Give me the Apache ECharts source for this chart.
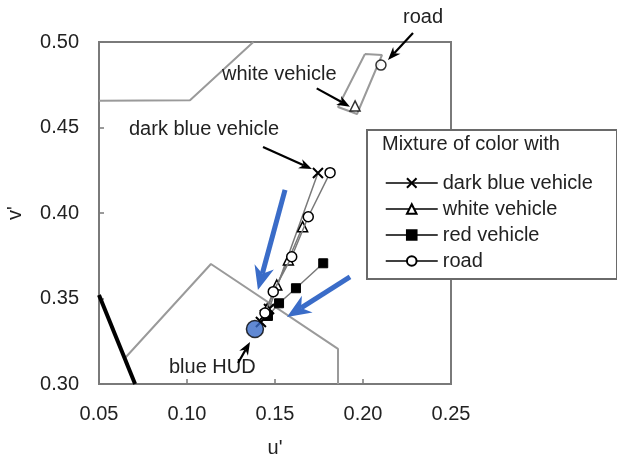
<!DOCTYPE html>
<html>
<head>
<meta charset="utf-8">
<script src="https://cdn.jsdelivr.net/npm/echarts@6/dist/echarts.min.js"></script>
<style>
  html, body { margin: 0; padding: 0; background: #fff; }
  #main { width: 617px; height: 463px; }
</style>
</head>
<body>
<div id="main"></div>
<script>
// u', v' chromaticity values
var hudPoint = [[0.1386, 0.3322]];
var darkBlue = [[0.1420, 0.3363], [0.1443, 0.3404], [0.1466, 0.3439], [0.1744, 0.4234]];
var whiteVeh = [[0.1455, 0.3439], [0.1510, 0.3579], [0.1576, 0.3725], [0.1657, 0.3920]];
var redVeh = [[0.1460, 0.3398], [0.1523, 0.3472], [0.1619, 0.3560], [0.1774, 0.3706]];
var road = [[0.1443, 0.3415], [0.1490, 0.3540], [0.1595, 0.3744], [0.1689, 0.3978], [0.1813, 0.4236]];
var whitePure = [[0.1955, 0.4626]];
var roadPure = [[0.2102, 0.4865]];

// gray boundary lines and the black line
var boundaryTop = [[0.05, 0.4657], [0.1017, 0.4660], [0.1377, 0.50]];
var boundaryBox = [[0.2011, 0.4930], [0.2108, 0.4924], [0.1966, 0.4579], [0.1858, 0.4620], [0.2011, 0.4930]];
var boundaryLow = [[0.0648, 0.3152], [0.1136, 0.3702], [0.1858, 0.3205], [0.1858, 0.30]];
var blackLine = [[0.05, 0.352], [0.0705, 0.30]];

// annotation arrows: [from, to]
var blackArrows = [
    [[0.2284, 0.5053], [0.2142, 0.4895]],
    [[0.1737, 0.4729], [0.1926, 0.4622]],
    [[0.1432, 0.4386], [0.1710, 0.4257]],
    [[0.1290, 0.3123], [0.1358, 0.3246]]
];
var blueArrows = [
    [[0.1557, 0.4135], [0.1403, 0.3550]],
    [[0.1926, 0.3626], [0.1568, 0.3392]]
];

var xTicks = [0.05, 0.10, 0.15, 0.20, 0.25];
var yTicks = [0.30, 0.35, 0.40, 0.45, 0.50];

var FONT = 'Liberation Sans';
var crossPath = 'path://M0,0L10,10M10,0L0,10';
var BLUE = '#3a6cc8';

var myChart = echarts.init(document.getElementById('main'));

var grayLine = {color: '#9a9a9a', width: 2};

var baseGraphic = [
    {type: 'rect', left: 366, top: 129, z: 50, shape: {width: 250, height: 149},
        style: {fill: '#fff', stroke: '#6a6a6a', lineWidth: 2}},
    {type: 'text', left: 382, top: 134, z: 60,
        style: {text: 'Mixture of color with', fontSize: 20, fontFamily: FONT, fill: '#222'}},
    {type: 'text', left: 403, top: 7, z: 60,
        style: {text: 'road', fontSize: 20, fontFamily: FONT, fill: '#222'}},
    {type: 'text', left: 222, top: 64, z: 60,
        style: {text: 'white vehicle', fontSize: 20, fontFamily: FONT, fill: '#222'}},
    {type: 'text', left: 129, top: 119, z: 60,
        style: {text: 'dark blue vehicle', fontSize: 20, fontFamily: FONT, fill: '#222'}},
    {type: 'text', left: 169, top: 357, z: 60,
        style: {text: 'blue HUD', fontSize: 20, fontFamily: FONT, fill: '#222'}}
];

var option = {
    animation: false,
    textStyle: {fontFamily: FONT},
    grid: {left: 99, right: 166, top: 42, bottom: 79, containLabel: false, outerBoundsMode: 'none',
        show: true, borderColor: '#7a7a7a', borderWidth: 2},
    xAxis: {
        type: 'value', min: xTicks[0], max: xTicks[xTicks.length - 1], interval: 0.05,
        name: "u'", nameLocation: 'middle', nameGap: 54,
        nameTextStyle: {fontSize: 20, color: '#222', fontFamily: FONT},
        axisLine: {show: false},
        axisTick: {show: true, inside: true, length: 5, lineStyle: {color: '#7a7a7a', width: 1.5}},
        splitLine: {show: false},
        axisLabel: {fontSize: 20, color: '#222', margin: 20, fontFamily: FONT,
            formatter: function (v) { return v.toFixed(2); }}
    },
    yAxis: {
        type: 'value', min: yTicks[0], max: yTicks[yTicks.length - 1], interval: 0.05,
        name: "v'", nameLocation: 'middle', nameGap: 74, nameRotate: 90,
        nameTextStyle: {fontSize: 20, color: '#222', fontFamily: FONT},
        axisLine: {show: false},
        axisTick: {show: true, inside: true, length: 5, lineStyle: {color: '#7a7a7a', width: 1.5}},
        splitLine: {show: false},
        axisLabel: {fontSize: 20, color: '#222', margin: 20, fontFamily: FONT,
            formatter: function (v) { return v.toFixed(2); }}
    },
    legend: {
        data: ['dark blue vehicle', 'white vehicle', 'red vehicle', 'road'],
        orient: 'vertical', left: 380, top: 168, itemWidth: 52, itemHeight: 12, itemGap: 6,
        selectedMode: false, z: 100,
        lineStyle: {color: '#000', width: 1.5},
        textStyle: {fontSize: 20, color: '#222', fontFamily: FONT}
    },
    graphic: baseGraphic,
    series: [
        {type: 'line', data: boundaryTop, symbol: 'none', lineStyle: grayLine, silent: true, z: 1},
        {type: 'line', data: boundaryBox, symbol: 'none', lineStyle: grayLine, silent: true, z: 1},
        {type: 'line', data: boundaryLow, symbol: 'none', lineStyle: grayLine, silent: true, z: 1},
        {type: 'line', data: blackLine, symbol: 'none', lineStyle: {color: '#000', width: 4}, silent: true, z: 1},
        {
            name: 'dark blue vehicle', type: 'line', data: darkBlue, z: 3,
            symbol: crossPath, symbolSize: 10, showAllSymbol: true,
            lineStyle: {color: '#7a7a7a', width: 1.5},
            itemStyle: {color: '#000', borderColor: '#000', borderWidth: 2}
        },
        {
            name: 'white vehicle', type: 'line', data: whiteVeh, z: 3,
            symbol: 'triangle', symbolSize: 10, showAllSymbol: true,
            lineStyle: {color: '#7a7a7a', width: 1.5},
            itemStyle: {color: '#fff', borderColor: '#000', borderWidth: 1.5}
        },
        {
            name: 'red vehicle', type: 'line', data: redVeh, z: 3,
            symbol: 'rect', symbolSize: 9, showAllSymbol: true,
            lineStyle: {color: '#7a7a7a', width: 1.5},
            itemStyle: {color: '#000', borderColor: '#000', borderWidth: 1}
        },
        {
            name: 'road', type: 'line', data: road, z: 4,
            symbol: 'circle', symbolSize: 10, showAllSymbol: true,
            lineStyle: {color: '#7a7a7a', width: 1.5},
            itemStyle: {color: '#fff', borderColor: '#000', borderWidth: 1.5}
        },
        {type: 'scatter', data: whitePure, symbol: 'triangle', symbolSize: 10, z: 4,
            itemStyle: {color: '#fff', borderColor: '#000', borderWidth: 1.5}},
        {type: 'scatter', data: roadPure, symbol: 'circle', symbolSize: 10, z: 4,
            itemStyle: {color: '#fff', borderColor: '#000', borderWidth: 1.5}},
        {type: 'scatter', data: hudPoint, symbol: 'circle', symbolSize: 17, z: 5,
            itemStyle: {color: BLUE, borderColor: '#000', borderWidth: 1.5}}
    ]
};

myChart.setOption(option);

// arrows: converted to pixels through the grid, shaft + notched head
function arrowShapes(a, color, width, headLen, headW) {
    var p1 = myChart.convertToPixel({gridIndex: 0}, a[0]);
    var p2 = myChart.convertToPixel({gridIndex: 0}, a[1]);
    var dx = p2[0] - p1[0], dy = p2[1] - p1[1];
    var len = Math.sqrt(dx * dx + dy * dy);
    dx /= len; dy /= len;
    var nx = -dy, ny = dx;
    var bx = p2[0] - dx * headLen, by = p2[1] - dy * headLen;
    var mx = p2[0] - dx * headLen * 0.7, my = p2[1] - dy * headLen * 0.7;
    return [
        {type: 'line', z: 70, silent: true,
            shape: {x1: p1[0], y1: p1[1], x2: mx, y2: my},
            style: {stroke: color, lineWidth: width}},
        {type: 'polygon', z: 70, silent: true,
            shape: {points: [p2, [bx + nx * headW / 2, by + ny * headW / 2], [mx, my],
                [bx - nx * headW / 2, by - ny * headW / 2]]},
            style: {fill: color}}
    ];
}

var extra = [];
for (var i = 0; i < blackArrows.length; i++) {
    extra = extra.concat(arrowShapes(blackArrows[i], '#000', 2.2, 13, 10));
}
for (var j = 0; j < blueArrows.length; j++) {
    extra = extra.concat(arrowShapes(blueArrows[j], BLUE, 5, 24, 20));
}
myChart.setOption({graphic: baseGraphic.concat(extra)});
</script>
</body>
</html>
